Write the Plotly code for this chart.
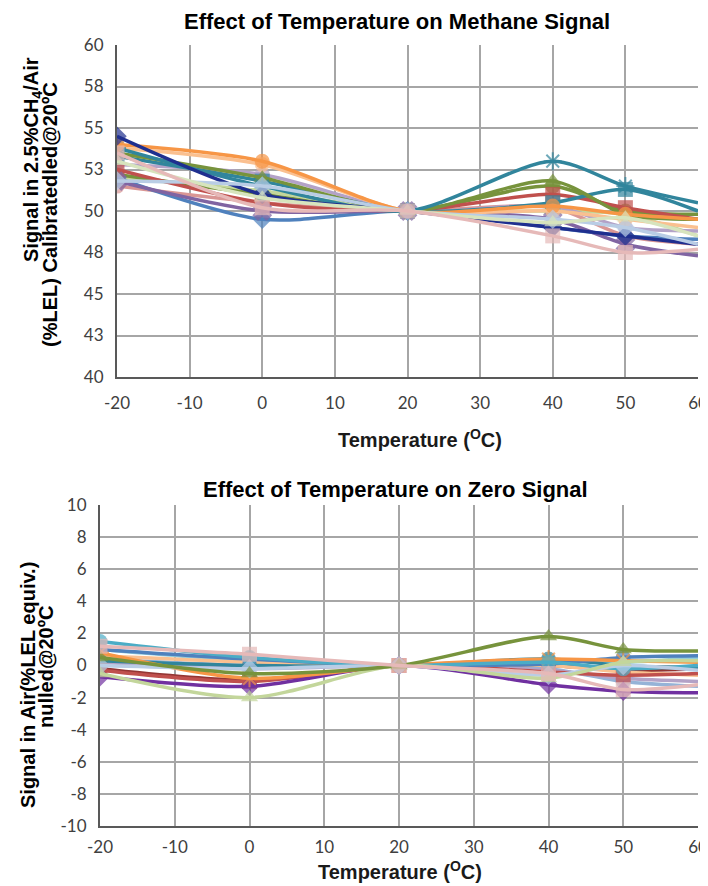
import plotly.graph_objects as go

temps = [-20, 0, 20, 40, 50, 60]

# Methane signal series (top chart)
m_navy = [54.5, 51.0, 50, 49.0, 48.5, 48.0]
m_orange = [54.0, 53.0, 50, 50.3, 49.8, 49.5]
m_orange2 = [53.8, 52.8, 50, 50.0, 49.5, 49.0]
m_green = [53.5, 52.0, 50, 51.8, 49.8, 49.5]
m_aqua = [53.8, 51.5, 50, 53.0, 51.5, 50.5]
m_aqua2 = [53.3, 51.8, 50, 50.5, 51.3, 50.0]
m_red = [52.5, 50.5, 50, 51.0, 50.2, 49.5]
m_purple = [51.8, 50.0, 50, 49.5, 48.0, 47.3]
m_pink = [53.5, 50.2, 50, 48.5, 47.5, 47.7]
m_lgreen = [53.0, 50.8, 50, 49.3, 49.6, 48.5]
m_lblue = [51.8, 51.5, 50, 49.5, 49.0, 48.0]
m_blue = [52.0, 49.5, 50, 49.0, 48.5, 48.3]
m_lav = [52.8, 52.2, 50, 50.3, 49.0, 48.8]
m_dgreen = [52.2, 51.0, 50, 51.5, 50.0, 49.8]
m_salmon = [51.5, 50.5, 50, 50.2, 48.5, 48.0]
m_pgreen = [52.0, 51.2, 50, 50.0, 49.8, 48.5]

# Zero signal series (bottom chart)
z_aqua = [1.5, 0.5, 0, 0.2, -0.2, 0.0]
z_pink = [1.2, 0.7, 0, -0.5, -1.5, -1.2]
z_blue = [1.0, 0.4, 0, 0.1, 0.5, 0.6]
z_orange = [0.8, -0.8, 0, 0.4, 0.3, 0.2]
z_green = [0.5, -0.5, 0, 1.8, 1.0, 0.9]
z_lblue = [0.0, -0.2, 0, -0.6, 0.0, -0.3]
z_red = [-0.3, -1.0, 0, -0.4, -0.6, -0.5]
z_purple = [-0.7, -1.3, 0, -1.2, -1.6, -1.7]
z_lgreen = [-0.5, -2.0, 0, -0.8, 0.2, 0.3]
z_aqua2 = [0.3, 0.0, 0, 0.4, 0.0, -0.2]
z_orange2 = [0.6, 0.2, 0, 0.0, -0.4, -0.6]
z_lav = [0.2, -0.2, 0, -0.3, -0.8, -1.0]
z_dred = [-0.2, -0.9, 0, 0.0, -0.3, -0.2]
z_laqua = [1.0, 0.3, 0, 0.3, 0.2, 0.5]
z_gblue = [0.4, 0.0, 0, -0.2, -1.0, -1.3]

x_tickvals = [-20, -10, 0, 10, 20, 30, 40, 50, 60]
x_ticktext = ["-20", "-10", "0", "10", "20", "30", "40", "50", "60"]
top_tickvals = [40, 42.5, 45, 47.5, 50, 52.5, 55, 57.5, 60]
top_ticktext = ["40", "43", "45", "48", "50", "53", "55", "58", "60"]
bot_tickvals = [-10, -8, -6, -4, -2, 0, 2, 4, 6, 8, 10]
bot_ticktext = ["-10", "-8", "-6", "-4", "-2", "0", "2", "4", "6", "8", "10"]

top_series = [
    (m_salmon, "#D99694", "circle"),
    (m_pgreen, "#C3D69B", "cross"),
    (m_dgreen, "#77933C", "circle"),
    (m_lav, "#B3A2C7", "circle"),
    (m_blue, "#4F81BD", "diamond"),
    (m_red, "#C0504D", "square"),
    (m_purple, "#8064A2", "x"),
    (m_aqua2, "#31859C", "square"),
    (m_orange2, "#FAC090", "circle"),
    (m_green, "#77933C", "triangle-up"),
    (m_aqua, "#31859C", "asterisk-open"),
    (m_orange, "#F79646", "circle"),
    (m_navy, "#1F2F8F", "diamond"),
    (m_lblue, "#B9CDE5", "diamond"),
    (m_lgreen, "#D7E4BD", "triangle-up"),
    (m_pink, "#E6B9B8", "square"),
]
bot_series = [
    (z_gblue, "#95B3D7", "circle"),
    (z_laqua, "#92CDDC", "circle"),
    (z_dred, "#943634", "circle"),
    (z_lav, "#B3A2C7", "circle"),
    (z_orange2, "#FAC090", "circle"),
    (z_aqua2, "#31859C", "circle"),
    (z_red, "#C0504D", "square"),
    (z_purple, "#7030A0", "diamond"),
    (z_blue, "#4F81BD", "circle"),
    (z_orange, "#F79646", "asterisk-open"),
    (z_aqua, "#4BACC6", "circle"),
    (z_lblue, "#B9CDE5", "diamond"),
    (z_lgreen, "#C3D69B", "triangle-up"),
    (z_green, "#77933C", "triangle-up"),
    (z_pink, "#E6B9B8", "square"),
]

fig = go.Figure()
msizes = [15, 15, 15, 15, 15, 0]

for vals, col, sym in top_series:
    lw = 2 if "open" in sym or sym == "x" else 0
    fig.add_trace(go.Scatter(
        x=temps, y=vals, mode="lines+markers", xaxis="x", yaxis="y",
        line=dict(color=col, width=3.5, shape="spline", smoothing=0.8),
        marker=dict(symbol=sym, size=msizes, color=col, line=dict(color=col, width=lw)),
        showlegend=False))

for vals, col, sym in bot_series:
    lw = 2 if "open" in sym or sym == "x" else 0
    fig.add_trace(go.Scatter(
        x=temps, y=vals, mode="lines+markers", xaxis="x2", yaxis="y2",
        line=dict(color=col, width=3.5, shape="spline", smoothing=0.8),
        marker=dict(symbol=sym, size=msizes, color=col, line=dict(color=col, width=lw)),
        showlegend=False))

W, H = 708, 886
OFF = 8  # page body margin


def px(x):
    return (x - OFF) / W


def py(y):
    return 1 - (y - OFF) / H


tickfont = dict(family="Lato", size=17, color="#404040")
grid = "#A6A6A6"
axline = "#595959"

common_x = dict(range=[-20, 60], tickvals=x_tickvals, ticktext=x_ticktext, showgrid=True,
                gridcolor=grid, gridwidth=1.5, showline=True, linecolor=axline, linewidth=2,
                zeroline=False, ticks="", tickfont=tickfont, automargin=False)
common_y = dict(showgrid=True, gridcolor=grid, gridwidth=1.5, showline=True, linecolor=axline,
                linewidth=2, zeroline=False, ticks="", tickfont=tickfont, automargin=False,
                ticklabelstandoff=8)

fig.update_layout(
    width=W, height=H,
    margin=dict(l=0, r=0, t=0, b=0, autoexpand=False),
    paper_bgcolor="white", plot_bgcolor="white",
    xaxis=dict(domain=[px(117), px(698)], anchor="y", ticklabelstandoff=10, **common_x),
    yaxis=dict(domain=[py(377), py(45)], anchor="x", range=[40, 60],
               tickvals=top_tickvals, ticktext=top_ticktext, **common_y),
    xaxis2=dict(domain=[px(100), px(698)], anchor="y2", ticklabelstandoff=5, **common_x),
    yaxis2=dict(domain=[py(826), py(505)], anchor="x2", range=[-10, 10],
                tickvals=bot_tickvals, ticktext=bot_ticktext, **common_y),
)

title_font = dict(family="Liberation Sans", size=22, color="black")
label_font = dict(family="Liberation Sans", size=20, color="#1a1a1a")
ytitle_font = dict(family="Liberation Sans", size=20, color="black")


def ann(text, x, y, font, angle=0, yanchor="middle"):
    fig.add_annotation(text=text, x=px(x), y=py(y), xref="paper", yref="paper",
                       showarrow=False, font=font, textangle=angle,
                       xanchor="center", yanchor=yanchor, borderpad=0)


ann("<b>Effect of Temperature on Methane Signal</b>", 397, 8, title_font, yanchor="top")
ann("<b>Effect of Temperature on Zero Signal</b>", 395, 489, title_font)
ann("<b>Temperature (<sup>O</sup>C)</b>", 420, 438, label_font)
ann("<b>Temperature (<sup>O</sup>C)</b>", 400, 870, label_font)
ann("<b>Signal in 2.5%CH<sub>4</sub>/Air</b>", 32, 160, ytitle_font, -90)
ann("<b>(%LEL) Calibratedled@20ºC</b>", 50, 215, ytitle_font, -90)
ann("<b>Signal in Air(%LEL equiv.)</b>", 28, 685, ytitle_font, -90)
ann("<b>nulled@20ºC</b>", 46, 667, ytitle_font, -90)

fig.write_html("out.html")
